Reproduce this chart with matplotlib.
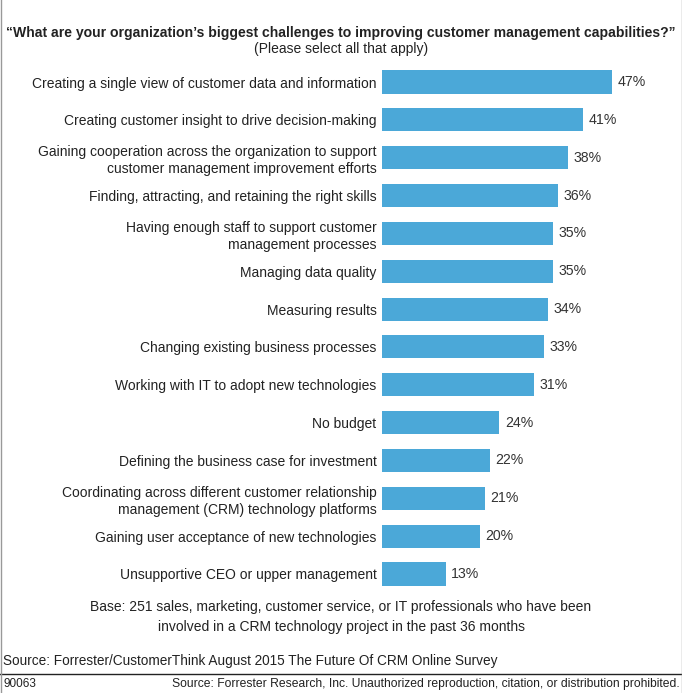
import matplotlib
matplotlib.use("Agg")
import matplotlib.pyplot as plt
from matplotlib.lines import Line2D

categories = [
    "Creating a single view of customer data and information",
    "Creating customer insight to drive decision-making",
    "Gaining cooperation across the organization to support\ncustomer management improvement efforts",
    "Finding, attracting, and retaining the right skills",
    "Having enough staff to support customer\nmanagement processes",
    "Managing data quality",
    "Measuring results",
    "Changing existing business processes",
    "Working with IT to adopt new technologies",
    "No budget",
    "Defining the business case for investment",
    "Coordinating across different customer relationship\nmanagement (CRM) technology platforms",
    "Gaining user acceptance of new technologies",
    "Unsupportive CEO or upper management",
]
values = [47, 41, 38, 36, 35, 35, 34, 33, 31, 24, 22, 21, 20, 13]

title = "\u201cWhat are your organization\u2019s biggest challenges to improving customer management capabilities?\u201d"
subtitle = "(Please select all that apply)"
base_note = "Base: 251 sales, marketing, customer service, or IT professionals who have been\ninvolved in a CRM technology project in the past 36 months"
source = "Source: Forrester/CustomerThink August 2015 The Future Of CRM Online Survey"
footer_id = "90063"
footer_right = "Source: Forrester Research, Inc. Unauthorized reproduction, citation, or distribution prohibited."

plt.rcParams['font.family'] = ['Liberation Sans', 'DejaVu Sans']
W, H = 682, 693
fig = plt.figure(figsize=(W/100, H/100), dpi=100)
fig.patch.set_facecolor('white')

px_per_unit = 4.894
ax_left, ax_right = 382, 672
ax_top, ax_bot = 63.1, 592.9
ax = fig.add_axes([ax_left/W, 1-ax_bot/H, (ax_right-ax_left)/W, (ax_bot-ax_top)/H])
ax.set_xlim(0, (ax_right-ax_left)/px_per_unit)
n = len(categories)
ax.set_ylim(n-0.5, -0.5)
pos = list(range(n))
bars = ax.barh(pos, values, height=0.61, color='#4ba8d8', edgecolor='none')
for b, v in zip(bars, values):
    ax.annotate(f"{v}%", (b.get_width(), b.get_y()+b.get_height()/2),
                xytext=(4, 0), textcoords='offset points', va='center', ha='left',
                fontsize=10.2, color='#333333')
ax.set_yticks(pos)
ax.set_yticklabels(categories, fontsize=10, color='#222222', linespacing=1.25)
ax.tick_params(axis='y', length=0, pad=4)
ax.set_xticks([])
for s in ax.spines.values():
    s.set_visible(False)

fig.text(0.5, 1-33/H, title, ha='center', va='center', fontsize=10.1, fontweight='bold', color='#222222')
fig.text(0.5, 1-49/H, subtitle, ha='center', va='center', fontsize=10, color='#222222')
fig.text(0.5, 1-617/H, base_note, ha='center', va='center', fontsize=10, color='#222222', linespacing=1.5)
fig.text(3/W, 1-661/H, source, ha='left', va='center', fontsize=9.8, color='#222222')
fig.text(3/W, 1-684/H, footer_id, ha='left', va='center', fontsize=8.5, color='#222222')
fig.text(680/W, 1-684/H, footer_right, ha='right', va='center', fontsize=8.75, color='#222222')

fig.add_artist(Line2D([0, 1], [1-674/H, 1-674/H], color='#222222', lw=1, transform=fig.transFigure))
fig.add_artist(Line2D([0.5/W, 0.5/W], [0, 1], color='#999999', lw=1, transform=fig.transFigure))
fig.add_artist(Line2D([1-0.5/W, 1-0.5/W], [0, 1], color='#999999', lw=1, transform=fig.transFigure))

fig.savefig("out.png", dpi=100, facecolor='white')
